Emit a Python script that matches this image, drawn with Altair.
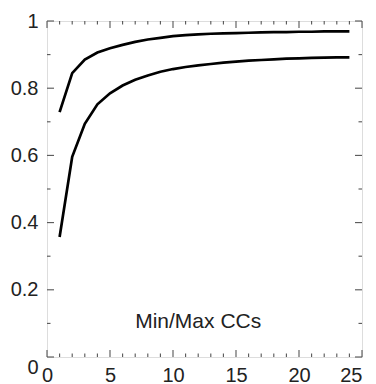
import altair as alt
import pandas as pd

# ---- data ----
x_vals = list(range(1, 25))
min_cc = [0.357, 0.596, 0.694, 0.752, 0.785, 0.808, 0.825, 0.838, 0.849, 0.857,
          0.863, 0.868, 0.872, 0.876, 0.879, 0.882, 0.884, 0.886, 0.888, 0.889,
          0.890, 0.891, 0.892, 0.892]
max_cc = [0.729, 0.845, 0.885, 0.906, 0.919, 0.929, 0.938, 0.945, 0.950, 0.955,
          0.958, 0.960, 0.962, 0.963, 0.964, 0.965, 0.966, 0.967, 0.967, 0.968,
          0.968, 0.969, 0.969, 0.969]

x_major = [0, 5, 10, 15, 20, 25]
x_minor = [i for i in range(26) if i % 5 != 0]
y_major = [0, 0.2, 0.4, 0.6, 0.8, 1.0]
y_minor = [0.1, 0.3, 0.5, 0.7, 0.9]

label_text = ["Min/Max CCs"]
label_x = [12]
label_y = [0.105]

W, H = 315, 336
FONT = "Liberation Sans"
TICK_COLOR = "#555555"

lines_df = pd.DataFrame({
    "x": x_vals * 2,
    "y": min_cc + max_cc,
    "series": ["min"] * len(x_vals) + ["max"] * len(x_vals),
})

xscale = alt.Scale(domain=[0, 25], nice=False, zero=False)
yscale = alt.Scale(domain=[0, 1], nice=False, zero=False)

base_x_axis = alt.Axis(
    values=x_major, format="d", ticks=False, domain=False, grid=False,
    labelFont=FONT, labelFontSize=20, labelColor="#222222", labelPadding=8,
    labelFlush=False,
    labelAlign={"condition": {"test": "datum.value == 25", "value": "right"}, "value": "center"},
    title=None,
)
base_y_axis = alt.Axis(
    values=y_major, format="~g", ticks=False, domain=False, grid=False,
    labelFont=FONT, labelFontSize=20, labelColor="#222222", labelPadding=9,
    labelFlush=False,
    labelBaseline={"condition": {"test": "datum.value == 0", "value": "top"}, "value": "middle"},
    title=None,
)

lines = alt.Chart(lines_df).mark_line(color="black", strokeWidth=2.7).encode(
    x=alt.X("x:Q", scale=xscale, axis=base_x_axis),
    y=alt.Y("y:Q", scale=yscale, axis=base_y_axis),
    detail="series:N",
)


def xticks(values, length, top):
    df = pd.DataFrame({"v": values})
    if top:
        y0, y1 = 0, length
    else:
        y0, y1 = H, H - length
    return alt.Chart(df).mark_rule(color=TICK_COLOR, strokeWidth=1.1).encode(
        x=alt.X("v:Q", scale=xscale),
        y=alt.value(y0), y2=alt.value(y1),
    )


def yticks(values, length, right):
    df = pd.DataFrame({"v": values})
    if right:
        x0, x1 = W, W - length
    else:
        x0, x1 = 0, length
    return alt.Chart(df).mark_rule(color=TICK_COLOR, strokeWidth=1.1).encode(
        y=alt.Y("v:Q", scale=yscale),
        x=alt.value(x0), x2=alt.value(x1),
    )


ticks = [
    xticks(x_major, 7, False), xticks(x_minor, 3.5, False),
    xticks(x_major, 7, True), xticks(x_minor, 3.5, True),
    yticks(y_major, 7, False), yticks(y_minor, 3.5, False),
    yticks(y_major, 7, True), yticks(y_minor, 3.5, True),
]

label_df = pd.DataFrame({"t": label_text, "x": label_x, "y": label_y})
label = alt.Chart(label_df).mark_text(
    font=FONT, fontSize=21, color="#222222", align="center", baseline="middle"
).encode(
    x=alt.X("x:Q", scale=xscale),
    y=alt.Y("y:Q", scale=yscale),
    text="t:N",
)

chart = alt.layer(lines, *ticks, label).properties(
    width=W, height=H,
    autosize=alt.AutoSizeParams(type="none"),
    padding={"left": 39, "top": 13, "right": 6, "bottom": 30},
).configure_view(
    stroke="#666666", strokeWidth=1.4
).configure(background="white")

chart.save("out.html", embed_options={"renderer": "svg", "actions": False})
